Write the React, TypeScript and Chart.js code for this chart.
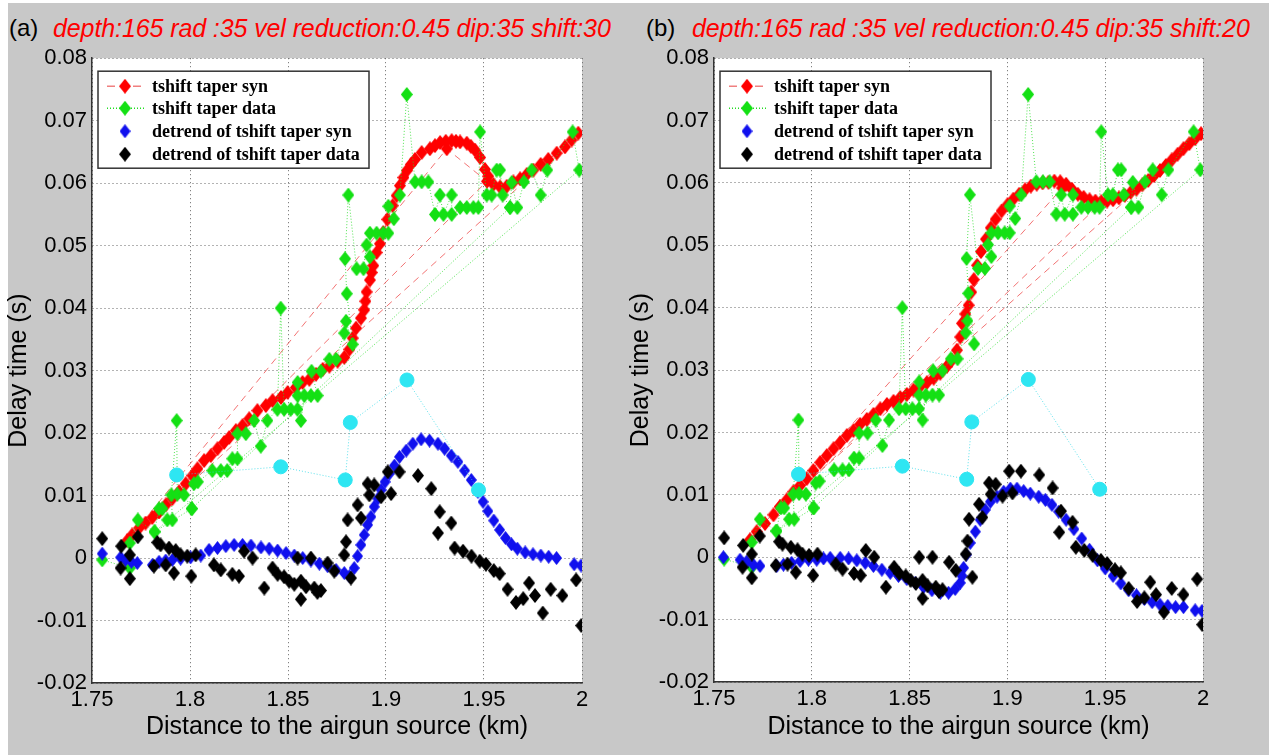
import React, { useEffect, useRef } from 'react';
import { Chart, registerables } from 'chart.js';

Chart.register(...registerables);

// ---------- tick values and labels ----------
const xTickValues = [1.75, 1.8, 1.85, 1.9, 1.95, 2];
const xTickLabels = ['1.75', '1.8', '1.85', '1.9', '1.95', '2'];
const yTickValues = [-0.02, -0.01, 0, 0.01, 0.02, 0.03, 0.04, 0.05, 0.06, 0.07, 0.08];
const yTickLabels = ['-0.02', '-0.01', '0', '0.01', '0.02', '0.03', '0.04', '0.05', '0.06', '0.07', '0.08'];

const legendLabels = [
  'tshift taper syn',
  'tshift taper data',
  'detrend of tshift taper syn',
  'detrend of tshift taper data',
];

const titleA = 'depth:165 rad :35 vel reduction:0.45 dip:35 shift:30';
const titleB = 'depth:165 rad :35 vel reduction:0.45 dip:35 shift:20';
const xTitle = 'Distance to the airgun source (km)';
const yTitle = 'Delay time (s)';

// ---------- panel (a): tshift taper syn (in recorded order) ----------
const synTaperA: [number, number][] = [
  [1.768, 0.0028], [1.7705, 0.0037], [1.931, 0.0655], [1.9515, 0.0603], [1.774, 0.0048],
  [1.7773, 0.0056], [1.7808, 0.0065], [1.7842, 0.0074], [1.7876, 0.0085], [1.791, 0.0095],
  [1.7944, 0.0106], [1.7978, 0.0119], [1.8012, 0.0132], [1.8038, 0.0143], [1.8072, 0.0156],
  [1.8106, 0.0164], [1.814, 0.0175], [1.8174, 0.0185], [1.82, 0.0193], [1.8234, 0.0204],
  [1.8268, 0.0212], [1.8302, 0.0223], [1.8344, 0.0236], [1.8387, 0.0244], [1.8421, 0.0252],
  [1.8464, 0.0257], [1.8498, 0.0265], [1.854, 0.0273], [1.8574, 0.0281], [1.8609, 0.0286],
  [1.8643, 0.0294], [1.8677, 0.0302], [1.8711, 0.0307], [1.8753, 0.0315], [1.8787, 0.0321],
  [1.8813, 0.0334], [1.883, 0.0352], [1.8847, 0.0368], [1.8872, 0.0384], [1.8889, 0.0397],
  [1.8895, 0.0411], [1.8901, 0.0426], [1.8918, 0.0445], [1.8927, 0.0457], [1.8935, 0.0468],
  [1.8952, 0.0489], [1.8969, 0.0503], [1.8986, 0.0521], [1.9007, 0.0542], [1.9034, 0.0564],
  [1.9054, 0.058], [1.9071, 0.0596], [1.9089, 0.0609], [1.9106, 0.062], [1.9127, 0.063],
  [1.9148, 0.0638], [1.9182, 0.0649], [1.9224, 0.0655], [1.925, 0.066], [1.9276, 0.0665],
  [1.9305, 0.0667], [1.9335, 0.0668], [1.9357, 0.0667], [1.9378, 0.0666], [1.9412, 0.0664],
  [1.9433, 0.0659], [1.9454, 0.0653], [1.948, 0.0641], [1.9505, 0.0622], [1.9522, 0.0611],
  [1.9548, 0.0598], [1.9582, 0.0594], [1.9616, 0.0595], [1.965, 0.0602], [1.9684, 0.0607],
  [1.9718, 0.0614], [1.9752, 0.0621], [1.9789, 0.063], [1.9828, 0.0638], [1.9871, 0.0648],
  [1.9913, 0.0658], [1.9947, 0.0669], [1.9981, 0.068], [1.7842, 0.0074],
];

// ---------- panel (a): detrend of tshift taper syn ----------
const detrendSynA: [number, number][] = [
  [1.7552, 0.0007], [1.7646, 0.0001], [1.7671, -0.0003], [1.7701, -0.0006], [1.7731, -0.0008],
  [1.7808, -0.0011], [1.7842, -0.0006], [1.7876, -0.0004], [1.791, -0.0003], [1.7952, -0.0001],
  [1.8003, 0.0001], [1.8055, 0.0004], [1.8097, 0.0013], [1.814, 0.0016], [1.8183, 0.0019],
  [1.8225, 0.0021], [1.8268, 0.0021], [1.8311, 0.002], [1.8362, 0.0017], [1.8404, 0.0015],
  [1.8447, 0.0012], [1.849, 0.0008], [1.8532, 0.0004], [1.8575, 0], [1.8617, -0.0004],
  [1.866, -0.0009], [1.8702, -0.0013], [1.8745, -0.0019], [1.8787, -0.0024], [1.8813, -0.0029],
  [1.8838, -0.0016], [1.8855, 0.0003], [1.8872, 0.0021], [1.8889, 0.0037], [1.8906, 0.0053],
  [1.8923, 0.0066], [1.894, 0.0082], [1.8958, 0.0095], [1.8975, 0.0109], [1.8995, 0.0122],
  [1.9017, 0.0135], [1.9043, 0.0148], [1.9069, 0.0162], [1.9103, 0.0172], [1.9137, 0.0183],
  [1.9179, 0.019], [1.9222, 0.0188], [1.9265, 0.0183], [1.9299, 0.0175], [1.9333, 0.0164],
  [1.9367, 0.0154], [1.9401, 0.014], [1.9435, 0.0125], [1.9469, 0.0106], [1.9495, 0.009],
  [1.952, 0.0075], [1.955, 0.006], [1.958, 0.0045], [1.961, 0.0032], [1.964, 0.0022],
  [1.967, 0.0015], [1.971, 0.0009], [1.975, 0.0006], [1.979, 0.0004], [1.983, 0.0002],
  [1.987, 0], [1.996, -0.001], [1.9995, -0.0012],
];

// ---------- panel (b): tshift taper syn (in recorded order) ----------
const synTaperB: [number, number][] = [
  [1.7684, 0.0028], [1.7718, 0.0041], [1.928, 0.0592], [1.9473, 0.0566], [1.7761, 0.0054],
  [1.7804, 0.0068], [1.7838, 0.0081], [1.7872, 0.0092], [1.7906, 0.0105], [1.794, 0.0115],
  [1.7974, 0.0126], [1.8008, 0.0139], [1.8043, 0.0152], [1.8077, 0.0163], [1.8111, 0.0174],
  [1.8145, 0.0184], [1.8179, 0.0195], [1.8213, 0.0203], [1.8247, 0.0213], [1.8281, 0.0221],
  [1.8315, 0.0229], [1.835, 0.0238], [1.8384, 0.0245], [1.8418, 0.025], [1.8452, 0.0256],
  [1.8486, 0.0261], [1.852, 0.0268], [1.8554, 0.0274], [1.8588, 0.028], [1.8623, 0.0287],
  [1.8657, 0.0295], [1.8691, 0.0306], [1.8716, 0.0316], [1.8742, 0.0332], [1.8759, 0.0353],
  [1.8768, 0.0375], [1.8785, 0.039], [1.8802, 0.0404], [1.8815, 0.0425], [1.8828, 0.0445],
  [1.8845, 0.0468], [1.8865, 0.049], [1.889, 0.051], [1.8915, 0.0528], [1.894, 0.0542],
  [1.897, 0.0555], [1.9, 0.0565], [1.903, 0.0574], [1.906, 0.0582], [1.909, 0.0589],
  [1.912, 0.0595], [1.915, 0.0598], [1.918, 0.06], [1.921, 0.0601], [1.924, 0.0603],
  [1.927, 0.0602], [1.93, 0.0598], [1.933, 0.059], [1.936, 0.0582], [1.939, 0.0577],
  [1.942, 0.0573], [1.945, 0.0571], [1.948, 0.057], [1.951, 0.0571], [1.954, 0.0573],
  [1.957, 0.0576], [1.96, 0.058], [1.963, 0.0585], [1.966, 0.059], [1.969, 0.0597],
  [1.972, 0.0604], [1.975, 0.0612], [1.978, 0.062], [1.981, 0.0628], [1.984, 0.0637],
  [1.987, 0.0646], [1.99, 0.0655], [1.993, 0.0663], [1.996, 0.0671], [1.999, 0.0679],
  [1.7838, 0.0081],
];

// ---------- panel (b): detrend of tshift taper syn ----------
const detrendSynB: [number, number][] = [
  [1.7548, 0], [1.7633, -0.0004], [1.7667, -0.0007], [1.7701, -0.0012], [1.7735, -0.0014],
  [1.7821, -0.0014], [1.7855, -0.0012], [1.7897, -0.0009], [1.794, -0.0006], [1.7983, -0.0004],
  [1.8025, -0.0004], [1.806, -0.0002], [1.8094, -0.0001], [1.8145, -0.0001], [1.8188, -0.0002],
  [1.823, -0.0005], [1.8273, -0.0009], [1.8315, -0.0014], [1.8358, -0.002], [1.8401, -0.0025],
  [1.8443, -0.003], [1.8486, -0.0035], [1.8529, -0.0041], [1.8571, -0.0048], [1.8614, -0.0053],
  [1.8657, -0.0057], [1.8699, -0.0057], [1.8733, -0.0051], [1.8759, -0.0041], [1.8768, -0.003],
  [1.8776, -0.0017], [1.879, 0.0004], [1.881, 0.0023], [1.8836, 0.0041], [1.8861, 0.006],
  [1.8887, 0.0076], [1.8913, 0.0089], [1.8947, 0.0097], [1.8981, 0.0105], [1.9015, 0.011],
  [1.9049, 0.011], [1.9083, 0.0106], [1.9117, 0.0102], [1.916, 0.0097], [1.9194, 0.0092],
  [1.9228, 0.0084], [1.9262, 0.0073], [1.93, 0.006], [1.934, 0.0045], [1.938, 0.003],
  [1.942, 0.0012], [1.946, -0.0005], [1.95, -0.0018], [1.954, -0.003], [1.958, -0.0042],
  [1.962, -0.0053], [1.966, -0.0061], [1.97, -0.0067], [1.974, -0.0072], [1.978, -0.0076],
  [1.982, -0.0078], [1.986, -0.008], [1.99, -0.008], [1.996, -0.0085], [1.9995, -0.0086],
];

// ---------- shared: tshift taper data (in recorded order) ----------
const taperData: [number, number][] = [
  [1.7552, -0.0003], [1.7693, -0.0016], [1.7693, 0.0024], [1.7734, 0.0061], [1.7819, 0.0042],
  [1.7842, 0.0079], [1.7859, 0.0079], [1.7884, 0.0061], [1.791, 0.0061], [1.7905, 0.0101],
  [1.7932, 0.022], [1.7935, 0.0102], [1.797, 0.0101], [1.8009, 0.0079], [1.802, 0.0119],
  [1.804, 0.0122], [1.8114, 0.014], [1.8157, 0.014], [1.819, 0.014], [1.8216, 0.0159],
  [1.8242, 0.0159], [1.8242, 0.0199], [1.8285, 0.0199], [1.8327, 0.022], [1.8361, 0.0179],
  [1.8395, 0.022], [1.8446, 0.0238], [1.8463, 0.04], [1.848, 0.0238], [1.8514, 0.0238],
  [1.8548, 0.0238], [1.8549, 0.0281], [1.8549, 0.026], [1.8566, 0.022], [1.8583, 0.026],
  [1.8617, 0.026], [1.8651, 0.026], [1.862, 0.0299], [1.8668, 0.0299], [1.8711, 0.0318],
  [1.8745, 0.0318], [1.8787, 0.036], [1.8796, 0.0379], [1.883, 0.0342], [1.88, 0.0423],
  [1.8791, 0.0479], [1.8808, 0.0581], [1.885, 0.0463], [1.8885, 0.0463], [1.8901, 0.0501],
  [1.8918, 0.0482], [1.8918, 0.052], [1.8952, 0.052], [1.8986, 0.052], [1.9012, 0.052],
  [1.9012, 0.0563], [1.904, 0.0543], [1.9071, 0.0581], [1.9106, 0.0742], [1.9148, 0.0602],
  [1.9182, 0.0602], [1.9216, 0.0602], [1.925, 0.055], [1.9275, 0.0581], [1.9293, 0.055],
  [1.9335, 0.0581], [1.9335, 0.055], [1.9378, 0.0561], [1.9412, 0.0561], [1.9446, 0.0561],
  [1.9471, 0.0561], [1.948, 0.0682], [1.9514, 0.0581], [1.9539, 0.0581], [1.9565, 0.0621],
  [1.9582, 0.0621], [1.9595, 0.0581], [1.9633, 0.0561], [1.9641, 0.0601], [1.967, 0.0561],
  [1.9704, 0.0602], [1.9743, 0.0621], [1.9789, 0.0581], [1.9823, 0.0621], [1.9952, 0.0682],
  [1.9986, 0.0621], [1.7819, 0.0042], [1.8009, 0.0079], [1.9633, 0.0561],
];

// ---------- shared: detrend of tshift taper data ----------
const detrendData: [number, number][] = [
  [1.7552, 0.0031], [1.7649, 0.0019], [1.7646, -0.0016], [1.7693, 0.0005], [1.7693, -0.0033],
  [1.7734, 0.0034], [1.7816, -0.0013], [1.7833, 0.0025], [1.785, 0.0021], [1.7876, -0.0011],
  [1.7893, 0.0016], [1.7918, -0.0024], [1.7927, 0.0012], [1.7952, 0.0005], [1.7986, 0.0003],
  [1.8007, -0.0029], [1.8029, 0.0005], [1.8122, -0.0011], [1.8157, -0.0019], [1.8216, -0.0026],
  [1.825, -0.0029], [1.8276, 0.0011], [1.8319, 0], [1.8379, -0.0048], [1.8421, -0.0016],
  [1.8447, -0.0026], [1.848, -0.003], [1.8506, -0.0037], [1.8532, -0.0042], [1.8549, 0],
  [1.8566, -0.0037], [1.8566, -0.0066], [1.8592, -0.0046], [1.8617, 0], [1.8634, -0.0048],
  [1.865, -0.0055], [1.8668, -0.0052], [1.8702, -0.0008], [1.8736, -0.0021], [1.8787, 0.0005],
  [1.8796, 0.0026], [1.8821, -0.0032], [1.8804, 0.0061], [1.8855, 0.0085], [1.8872, 0.0064],
  [1.8906, 0.0119], [1.8915, 0.0101], [1.894, 0.0117], [1.8975, 0.0098], [1.9009, 0.0138],
  [1.9026, 0.0103], [1.9069, 0.0138], [1.9163, 0.0132], [1.9231, 0.0111], [1.9274, 0.0074],
  [1.9265, 0.004], [1.9333, 0.0056], [1.935, 0.0016], [1.9393, 0.0011], [1.9436, 0.0003],
  [1.9478, -0.0005], [1.951, -0.001], [1.955, -0.002], [1.958, -0.0025], [1.962, -0.005],
  [1.9663, -0.0071], [1.97, -0.0065], [1.973, -0.004], [1.976, -0.006], [1.98, -0.0088],
  [1.984, -0.005], [1.99, -0.006], [1.997, -0.0035], [1.9996, -0.0108],
];

// ---------- shared: cyan reference points (in recorded order) ----------
const cyanPoints: [number, number][] = [
  [1.7932, 0.0133], [1.8463, 0.0146], [1.8792, 0.0125], [1.8818, 0.0217], [1.9107, 0.0285], [1.9472, 0.0109],
];

const SANS = "'Liberation Sans', Arial, Helvetica, sans-serif";
const SERIF = "'Liberation Serif', 'Times New Roman', serif";

const toXY = (arr: [number, number][]) => arr.map(([x, y]) => ({ x, y }));

// MATLAB-like diamond (taller than wide) as a small canvas image
function diamondImage(color: string, w: number, h: number): HTMLCanvasElement {
  const c = document.createElement('canvas');
  c.width = w;
  c.height = h;
  const g = c.getContext('2d') as CanvasRenderingContext2D;
  g.fillStyle = color;
  g.beginPath();
  g.moveTo(w / 2, 0);
  g.lineTo(w, h / 2);
  g.lineTo(w / 2, h);
  g.lineTo(0, h / 2);
  g.closePath();
  g.fill();
  return c;
}

const plotBgPlugin = {
  id: 'plotBg',
  beforeDraw(chart: any) {
    const { ctx, chartArea } = chart;
    if (!chartArea) return;
    ctx.save();
    ctx.fillStyle = '#ffffff';
    ctx.fillRect(chartArea.left, chartArea.top, chartArea.right - chartArea.left, chartArea.bottom - chartArea.top);
    ctx.restore();
  },
};

const boxLegendPlugin = {
  id: 'boxLegend',
  afterDatasetsDraw(chart: any) {
    const { ctx, chartArea } = chart;
    const x0 = chartArea.left + 6;
    const y0 = chartArea.top + 13;
    const w = 271;
    const h = 97;
    ctx.save();
    ctx.fillStyle = '#ffffff';
    ctx.fillRect(x0, y0, w, h);
    ctx.lineWidth = 1.5;
    ctx.strokeStyle = '#333333';
    ctx.setLineDash([]);
    ctx.strokeRect(x0, y0, w, h);
    const rows = [15, 37, 60, 83];
    legendLabels.forEach((label, i) => {
      const ds = chart.data.datasets.find((d: any) => d.label === label);
      if (!ds) return;
      const yy = y0 + rows[i];
      if (ds.showLine) {
        ctx.save();
        ctx.strokeStyle = ds.legendLineColor || ds.borderColor;
        ctx.lineWidth = 1.5;
        ctx.setLineDash(ds.legendDash || []);
        ctx.beginPath();
        ctx.moveTo(x0 + 9, yy);
        ctx.lineTo(x0 + 46, yy);
        ctx.stroke();
        ctx.restore();
      }
      const img = ds.pointStyle as HTMLCanvasElement;
      ctx.drawImage(img, x0 + 27 - img.width / 2, yy - img.height / 2);
      ctx.fillStyle = '#000';
      ctx.font = `bold 18px ${SERIF}`;
      ctx.textBaseline = 'middle';
      ctx.textAlign = 'left';
      ctx.fillText(label, x0 + 54, yy + 1);
    });
    ctx.restore();
  },
};

function makeConfig(syn: [number, number][], detSyn: [number, number][], pad: any, yWidth: number, xHeight: number) {
  return {
    type: 'scatter',
    data: {
      datasets: [
        {
          label: '',
          data: toXY(cyanPoints),
          showLine: true,
          borderColor: 'rgba(40,215,230,0.75)',
          borderWidth: 1,
          borderDash: [1, 2],
          pointStyle: 'circle',
          pointRadius: 7,
          pointBackgroundColor: '#2ee6f2',
          pointBorderColor: '#2ee6f2',
          pointBorderWidth: 1,
          order: 0,
        },
        {
          label: legendLabels[3],
          data: toXY(detrendData),
          showLine: false,
          pointStyle: diamondImage('#000000', 12, 15),
          pointRadius: 6,
          order: 1,
        },
        {
          label: legendLabels[2],
          data: toXY(detSyn),
          showLine: false,
          pointStyle: diamondImage('#1010ee', 11, 14),
          pointRadius: 6,
          order: 2,
        },
        {
          label: legendLabels[1],
          data: toXY(taperData),
          showLine: true,
          borderColor: 'rgba(40,220,40,0.8)',
          legendLineColor: '#22dd22',
          legendDash: [1, 2],
          borderWidth: 1,
          borderDash: [1, 2],
          pointStyle: diamondImage('#14e014', 12, 15),
          pointRadius: 6,
          order: 3,
        },
        {
          label: legendLabels[0],
          data: toXY(syn),
          showLine: true,
          borderColor: 'rgba(240,90,90,0.85)',
          legendLineColor: '#f08080',
          legendDash: [8, 5],
          borderWidth: 1,
          borderDash: [7, 5],
          pointStyle: diamondImage('#ff0000', 12, 15),
          pointRadius: 6,
          order: 4,
        },
      ],
    },
    options: {
      responsive: false,
      maintainAspectRatio: false,
      animation: false,
      devicePixelRatio: 1,
      events: [],
      layout: { padding: pad },
      plugins: {
        legend: { display: false },
        tooltip: { enabled: false },
        title: { display: false },
      },
      scales: {
        x: {
          type: 'linear',
          min: 1.75,
          max: 2,
          afterBuildTicks: (s: any) => {
            s.ticks = xTickValues.map((v) => ({ value: v }));
          },
          afterFit: (s: any) => {
            s.height = xHeight;
          },
          ticks: {
            callback: (_v: any, i: number) => xTickLabels[i],
            font: { family: SANS, size: 22 },
            color: '#000',
            padding: 4,
            maxRotation: 0,
            autoSkip: false,
          },
          grid: { color: '#666666', lineWidth: 1, drawTicks: false },
          border: { color: '#333333', width: 1.5, dash: [1, 3] },
          title: {
            display: true,
            text: xTitle,
            font: { family: SANS, size: 25 },
            color: '#000',
            padding: { top: 0, bottom: 13 },
          },
        },
        y: {
          type: 'linear',
          min: -0.02,
          max: 0.08,
          afterBuildTicks: (s: any) => {
            s.ticks = yTickValues.map((v) => ({ value: v }));
          },
          afterFit: (s: any) => {
            s.width = yWidth;
          },
          ticks: {
            callback: (_v: any, i: number) => yTickLabels[i],
            font: { family: SANS, size: 22 },
            color: '#000',
            padding: 5,
            autoSkip: false,
          },
          grid: { color: '#666666', lineWidth: 1, drawTicks: false },
          border: { color: '#333333', width: 1.5, dash: [1, 3] },
          title: {
            display: true,
            text: yTitle,
            font: { family: SANS, size: 25 },
            color: '#000',
            padding: { top: 4, bottom: 0 },
          },
        },
      },
    },
    plugins: [plotBgPlugin, boxLegendPlugin],
  };
}

function Panel(props: { left: number; top: number; width: number; height: number; syn: [number, number][]; detSyn: [number, number][]; pad: any; yWidth: number; xHeight: number }) {
  const ref = useRef<HTMLCanvasElement | null>(null);
  useEffect(() => {
    if (!ref.current) return;
    const chart = new Chart(ref.current, makeConfig(props.syn, props.detSyn, props.pad, props.yWidth, props.xHeight) as any);
    return () => chart.destroy();
  }, []);
  return (
    <canvas
      ref={ref}
      width={props.width}
      height={props.height}
      style={{ position: 'absolute', left: props.left, top: props.top, width: props.width, height: props.height }}
    />
  );
}

export default function App() {
  const titleStyle: React.CSSProperties = {
    position: 'absolute',
    top: 13,
    fontFamily: SANS,
    fontSize: 24,
    lineHeight: '30px',
    whiteSpace: 'nowrap',
  };
  return (
    <div style={{ position: 'absolute', left: 0, top: 0, width: 1269, height: 755, background: '#ffffff', overflow: 'hidden' }}>
      <div style={{ position: 'absolute', left: 8, top: 3, width: 1261, height: 752, background: '#c8c8c8' }} />
      <div style={{ ...titleStyle, left: 9, color: '#000' }}>(a)</div>
      <div style={{ ...titleStyle, left: 53, color: '#ff0000', fontStyle: 'italic', fontSize: 25, letterSpacing: -0.1 }}>{titleA}</div>
      <div style={{ ...titleStyle, left: 646, color: '#000' }}>(b)</div>
      <div style={{ ...titleStyle, left: 692, color: '#ff0000', fontStyle: 'italic', fontSize: 25, letterSpacing: -0.1 }}>{titleB}</div>
      <Panel left={0} top={40} width={622} height={715} syn={synTaperA} detSyn={detrendSynA}
        pad={{ left: 0, right: 40, top: 15, bottom: 0 }} yWidth={92} xHeight={72} />
      <Panel left={622} top={40} width={647} height={715} syn={synTaperB} detSyn={detrendSynB}
        pad={{ left: 0, right: 66, top: 13, bottom: 0 }} yWidth={92} xHeight={73} />
    </div>
  );
}
